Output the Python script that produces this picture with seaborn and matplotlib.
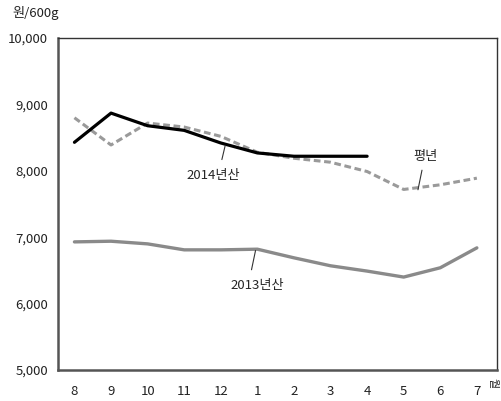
import matplotlib.pyplot as plt
import numpy as np
import pandas as pd
import seaborn as sns

months = ["8", "9", "10", "11", "12", "1", "2", "3", "4", "5", "6", "7"]
price_2014 = [8430, 8870, 8680, 8610, 8420, 8270, 8220, 8220, 8220]
price_normal = [8800, 8390, 8720, 8660, 8520, 8280, 8190, 8130, 7990, 7720, 7790, 7890]
price_2013 = [6930, 6940, 6900, 6810, 6810, 6820, 6690, 6570, 6490, 6400, 6540, 6840]
y_ticks = [5000, 6000, 7000, 8000, 9000, 10000]

sns.set_style("white")
plt.rcParams["font.family"] = ["Noto Sans CJK KR", "DejaVu Sans"]

fig = plt.figure(figsize=(5.02, 4.01), dpi=100)
ax = fig.add_axes([0.1155, 0.0773, 0.8745, 0.8277])

x_all = np.arange(len(months))
df13 = pd.DataFrame({"x": x_all, "y": price_2013})
dfn = pd.DataFrame({"x": x_all, "y": price_normal})
df14 = pd.DataFrame({"x": x_all[:len(price_2014)], "y": price_2014})

sns.lineplot(data=df13, x="x", y="y", ax=ax, color="#8a8a8a", linewidth=2.4)
sns.lineplot(data=dfn, x="x", y="y", ax=ax, color="#9a9a9a", linewidth=2.2,
             linestyle=(0, (2.2, 1.2)))
sns.lineplot(data=df14, x="x", y="y", ax=ax, color="black", linewidth=2.3)

fs = 9.5
ax.set_xlim(-0.45, 11.55)
ax.set_ylim(5000, 10000)
ax.set_yticks(y_ticks)
ax.set_yticklabels([f"{v:,}" for v in y_ticks], fontsize=fs, color="#222222")
ax.set_xticks(x_all)
ax.set_xticklabels(months, fontsize=fs, color="#222222")
ax.set_xticks(x_all[:-1] + 0.5, minor=True)
ax.tick_params(axis="x", which="major", length=0, pad=11)
ax.tick_params(axis="x", which="minor", direction="in", length=4, color="#666666")
ax.tick_params(axis="y", direction="in", length=3, color="#666666", pad=7)
ax.set_xlabel("")
ax.set_ylabel("")
for side in ["left", "bottom"]:
    ax.spines[side].set_color("#555555")
    ax.spines[side].set_linewidth(1.8)
for side in ["top", "right"]:
    ax.spines[side].set_color("#333333")
    ax.spines[side].set_linewidth(1.0)

# labels with leader lines
leader = dict(arrowstyle="-", color="#333333", lw=0.8, shrinkA=0, shrinkB=0)
ax.text(3.8, 7930, "2014년산", fontsize=fs, ha="center", va="center")
ax.annotate("", xy=(4.12, 8380), xytext=(4.03, 8170), arrowprops=leader)
ax.text(5.0, 6270, "2013년산", fontsize=fs, ha="center", va="center")
ax.annotate("", xy=(4.95, 6800), xytext=(4.84, 6510), arrowprops=leader)
ax.text(9.6, 8210, "평년", fontsize=fs, ha="center", va="center")
ax.annotate("", xy=(9.39, 7715), xytext=(9.5, 8010), arrowprops=leader)

fig.text(0.024, 0.967, "원/600g", fontsize=fs, ha="left", va="center", color="#222222")
fig.text(0.982, 0.045, "월", fontsize=8, ha="center", va="center", rotation=270, color="#222222")

fig.savefig("out.png", dpi=100)
